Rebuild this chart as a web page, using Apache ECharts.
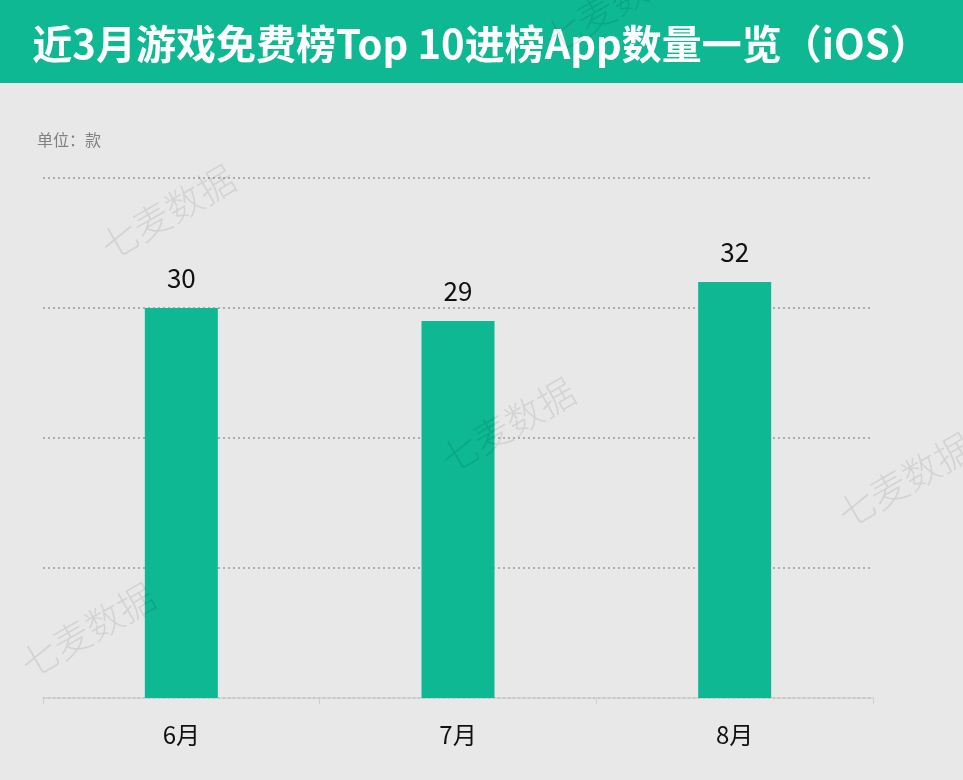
<!DOCTYPE html>
<html><head><meta charset="utf-8">
<script src="https://cdn.jsdelivr.net/npm/echarts@6/dist/echarts.min.js"></script>
<style>html,body{margin:0;padding:0;background:#e8e8e8;}#c{width:963px;height:780px;}</style>
</head><body><div id="c"></div>
<script>
const titleText = '近3月游戏免费榜Top 10进榜App数量一览（iOS）';
const unitText = '单位：款';
const categories = ['6月', '7月', '8月'];
const values = [30, 29, 32];
const watermark = '七麦数据';

const chart = echarts.init(document.getElementById('c'));
const font = '"Noto Sans CJK SC", "Noto Sans", sans-serif';
const wmPos = [[168, 212], [508, 425], [905, 480], [88, 630], [612, 5]];
const graphics = [
  { type: 'rect', left: 0, top: 0, shape: { width: 963, height: 83 }, style: { fill: '#0db893' }, z: 0 },
  { type: 'text', x: 481, y: 44, style: { text: titleText, fill: '#fff', font: 'bold 40px ' + font, textAlign: 'center', textVerticalAlign: 'middle' }, z: 2 },
  { type: 'text', x: 37, y: 140, style: { text: unitText, fill: '#808080', font: '16px ' + font, textAlign: 'left', textVerticalAlign: 'middle' }, z: 2 }
];
wmPos.forEach(p => graphics.push({
  type: 'text', x: p[0], y: p[1], rotation: Math.PI / 6,
  style: { text: watermark, fill: 'rgba(0,0,0,0.09)', font: '300 37px ' + font, textAlign: 'center', textVerticalAlign: 'middle' }, z: 5
}));

chart.setOption({
  backgroundColor: '#e8e8e8',
  animation: false,
  graphic: graphics,
  grid: { left: 43, right: 90, top: 178, bottom: 82, containLabel: false },
  xAxis: {
    type: 'category', data: categories,
    axisLine: { lineStyle: { color: '#cfcfcf', width: 1.5 } },
    axisTick: { show: true, length: 6, lineStyle: { color: '#cfcfcf' } },
    axisLabel: { color: '#111', fontSize: 24, margin: 25, fontFamily: font }
  },
  yAxis: {
    type: 'value', min: 0, max: 40, interval: 10,
    axisLine: { show: false }, axisTick: { show: false }, axisLabel: { show: false },
    splitLine: { lineStyle: { color: '#999', type: [2, 3], width: 1.5 } }
  },
  series: [{
    type: 'bar', data: values, barWidth: 73,
    itemStyle: { color: '#0db893' },
    label: { show: true, position: 'top', distance: 17, color: '#111', fontSize: 26, fontFamily: font }
  }]
});
</script></body></html>
